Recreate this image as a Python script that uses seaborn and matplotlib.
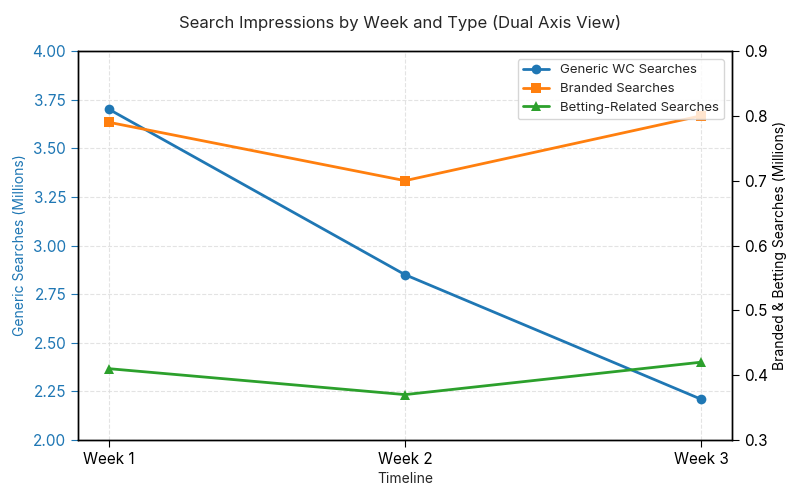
import matplotlib
matplotlib.use("Agg")
import matplotlib.pyplot as plt
import seaborn as sns
import pandas as pd

weeks = ["Week 1", "Week 2", "Week 3"]
generic = [3.70, 2.85, 2.21]
branded = [0.79, 0.70, 0.80]
betting = [0.41, 0.37, 0.42]

sns.set_style("white")
plt.rcParams['font.family'] = ['Inter', 'DejaVu Sans']

blue = "#1f77b4"
orange = "#ff7f0e"
green = "#2ca02c"

df = pd.DataFrame({"x": range(len(weeks)), "generic": generic,
                   "branded": branded, "betting": betting})

fig = plt.figure(figsize=(8, 5), dpi=100)
ax = fig.add_axes([0.0975, 0.12, 0.8175, 0.778])
ax2 = ax.twinx()

sns.lineplot(data=df, x="x", y="generic", ax=ax, color=blue, marker="o",
             markersize=7, linewidth=2, markeredgewidth=0, label="Generic WC Searches", legend=False)
sns.lineplot(data=df, x="x", y="branded", ax=ax2, color=orange, marker="s",
             markersize=7, linewidth=2, markeredgewidth=0, label="Branded Searches", legend=False)
sns.lineplot(data=df, x="x", y="betting", ax=ax2, color=green, marker="^",
             markersize=7, linewidth=2, markeredgewidth=0, label="Betting-Related Searches", legend=False)

ax.set_xlim(-0.105, 2.105)
ax.set_ylim(2.0, 4.0)
ax2.set_ylim(0.3, 0.9)
ax.set_xticks(range(len(weeks)))
ax.set_xticklabels(weeks)
lticks = [2.0, 2.25, 2.5, 2.75, 3.0, 3.25, 3.5, 3.75, 4.0]
rticks = [0.3, 0.4, 0.5, 0.6, 0.7, 0.8, 0.9]
ax.set_yticks(lticks)
ax.set_yticklabels([f"{v:.2f}" for v in lticks])
ax2.set_yticks(rticks)
ax2.set_yticklabels([f"{v:.1f}" for v in rticks])

ax.grid(True, linestyle="--", color="#dddddd", linewidth=0.8, alpha=0.8)
ax.set_axisbelow(True)

ax.tick_params(axis="y", colors=blue, labelsize=11, direction="out", length=5, left=True)
ax.tick_params(axis="x", labelsize=11, colors="black", length=5, bottom=True)
ax2.tick_params(axis="y", labelsize=11, colors="black", length=5, right=True)

ax.set_xlabel("Timeline", fontsize=10)
ax.set_ylabel("Generic Searches (Millions)", fontsize=10, color=blue)
ax2.set_ylabel("Branded & Betting Searches (Millions)", fontsize=10, color="black")

for a in (ax, ax2):
    for s in a.spines.values():
        s.set_color("black")
        s.set_linewidth(1)

fig.suptitle("Search Impressions by Week and Type (Dual Axis View)", fontsize=12, y=0.97)

h1, lab1 = ax.get_legend_handles_labels()
h2, lab2 = ax2.get_legend_handles_labels()
ax2.legend(h1 + h2, lab1 + lab2, loc="upper right", fontsize=9.5, frameon=True,
           borderaxespad=0.6)

fig.savefig("out.png", dpi=100)
